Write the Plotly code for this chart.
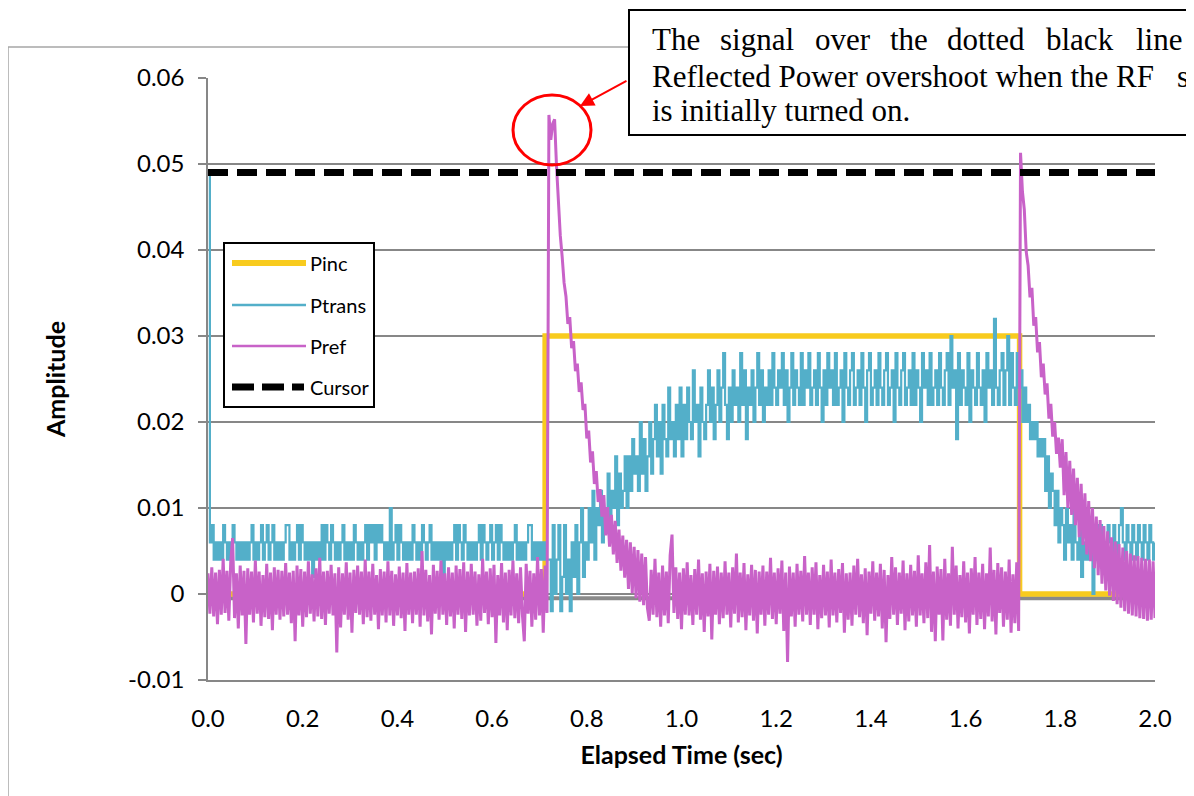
import plotly.graph_objects as go

# ---------------- data ----------------
sample_step = 0.004  # seconds between recorded samples

# Incident power (step on / step off)
pinc_time = [0.0, 0.712, 1.714, 2.0]
pinc_values = [0.0, 0.03, 0.0, 0.0]

# Cursor (threshold) line
cursor_time = [0.0, 2.0]
cursor_values = [0.049, 0.049]

# grey reference baseline
baseline_time = [0.0, 2.0]
baseline_values = [-0.0005, -0.0005]

# Transmitted power, in units of 1e-3 (digitiser steps of 0.002)
ptrans_milli = [
    49, 6, 8, 4, 6, 4, 6, 4, 8, 6, 4, 6, 4, 8, 6, 4, 6, 4, 6, 4,
    6, 4, 6, 8, 4, 6, 4, 6, 8, 4, 6, 8, 4, 6, 8, 4, 6, 4, 6, 4,
    6, 8, 8, 4, 6, 4, 6, 8, 4, 8, 6, 4, 6, 4, 6, 2, 6, 4, 6, 4,
    8, 4, 8, 6, 4, 8, 6, 4, 6, 4, 6, 8, 4, 6, 4, 6, 4, 8, 6, 4,
    6, 4, 6, 8, 4, 8, 6, 8, 4, 8, 6, 8, 6, 4, 6, 4, 10, 4, 6, 8,
    4, 8, 6, 4, 6, 4, 6, 4, 8, 6, 4, 6, 4, 8, 6, 4, 6, 8, 4, 6,
    4, 6, 4, 6, 2, 6, 4, 6, 4, 6, 8, 4, 8, 6, 4, 8, 6, 4, 6, 4,
    6, 4, 6, 8, 4, 8, 6, 4, 6, 8, 4, 6, 8, 4, 8, 6, 4, 6, 4, 6,
    4, 6, 8, 4, 6, 4, 6, 4, 6, 8, 8, 4, 6, 4, 6, 4, 6, 4, 6, 4,
    # RF on: rise
    4, -2, 8, 0, 4, 8, -2, 2, 8, 0, 4, -2, 6, 2, 8, 0, 6, 10, 2, 6,
    4, 10, 6, 12, 4, 10, 8, 12, 6, 10, 8,
    14, 8, 12, 10, 16, 8, 14, 10, 12, 16, 10,
    16, 12, 18, 14, 16, 12, 20, 14, 18, 12, 16,
    20, 14, 18, 22, 16, 20, 14, 22, 18, 16, 24, 18, 20, 16, 22, 18, 24, 16,
    22, 18, 24, 20, 18, 26, 20, 22, 16, 24, 20, 18, 22, 26, 20, 24, 18,
    22, 26, 20, 24, 28, 22, 18, 24, 20, 26, 22, 24, 20, 28, 22, 26, 18, 24, 22, 26,
    20, 24, 28, 22, 26, 20, 24, 22,
    # plateau
    26, 22, 28, 24, 22, 26, 24, 28, 22, 26, 20, 24, 28, 22, 26, 24, 22, 28, 22, 26,
    24, 28, 22, 24, 26, 22, 28, 24, 20, 26, 22, 28, 24, 26, 22, 28, 22, 24, 26, 20,
    28, 24, 22, 26, 28, 22, 24, 26, 22, 28, 24, 20, 26, 28, 22, 24, 26, 22, 28, 24,
    22, 26, 28, 22, 24, 26, 20, 28, 24, 22, 26, 28, 22, 24, 26, 22, 28, 22, 26, 24,
    20, 28, 24, 26, 22, 28, 22, 24, 26, 22, 28, 24, 22, 26, 28, 22, 30, 24, 26, 18,
    28, 22, 26, 24, 22, 28, 20, 26, 24, 22, 28, 24, 22, 26, 20, 28, 24, 26, 22, 32,
    24, 22, 26, 28, 22, 26, 30, 22, 28, 24, 22, 28, 24,
    # RF off: fall
    26, 20, 24, 20, 22, 18, 20, 18, 20, 16, 18, 16, 18, 12, 16, 10, 14, 12, 8, 12,
    6, 10, 8, 4, 10, 6, 8, 4, 10, 6, 4, 8, 2, 6, 4, 8, 4, 6, 0, 6, 4, 8,
    8, 4, 6, 4, 8, 6, 4, 8, 6, 4, 8, 10, 6, 4, 8, 6, 4, 8, 6, 4,
    8, 6, 4, 8, 6, 4, 8, 6, 4, 6,
]

# Reflected power, in units of 1e-4
pref_e4 = [
    24, -23, 31, -26, 25, -35, 28, -24, 41, -22, 27, -31, 37, 65, -28, 24, -40, 33, -25, 27,
    -58, 30, -24, 26, -33, 39, -23, 26, -37, 22, -27, 35, -29, 25, -42, 31, -24, 28, -30, 27,
    -26, 36, -24, 25, -34, 27, -55, 33, -25, 29, -38, 26, -27, 38, -23, 23, -32, 30, -26, 42,
    -29, 26, -36, 27, -23, 34, -25, 24, -68, 31, -39, 24, -24, 37, -30, 25, -45, 28, -22, 33,
    -24, 26, -35, 40, -27, 26, -31, 35, -24, 22, -41, 29, -25, 26, -33, 38, -25, 27, -37, 23,
    -25, 32, -28, 25, -43, 36, -24, 25, -34, 26, -24, 30, -38, 50, -25, 28, -32, 22, -47, 34,
    -23, 27, -30, 39, -24, 24, -36, 31, -26, 25, -40, 33, -24, 29, -29, 37, -44, 26, -25, 35,
    -24, 26, -37, 23, -31, 41, -22, 26, -35, 30, -27, 34, -57, 22, -25, 36, -33, 25, -42, 28,
    -25, 39, -28, 24, -34, 31, -24, -55, 35, -23, 27, -38, 24, -30, 43, -25, 29, -45, 33, -22,
    # RF on: overshoot and decay
    557, 528, 547, 552, 498, 452, 417, 392, 362,
    346, 314, 322, 286, 294, 259, 268, 235, 246, 214, 221, 181, 190, 153, 166, 128, 143, 107, 122, 90,
    115, 68, 101, 55, 92, 46, 85, 36, 75, 27, 68, 19, 63, 6, 60, 1, 55, -5, 51, -9, 47, -13, 43, -16,
    # steady state
    -31, 28, -24, 41, -27, 25, -38, 33, -25, 26, -34, 45, 69, -22, 31, -29, 25, -41, 30, -24,
    37, -25, 22, -36, 29, -24, 40, -30, 24, -44, 26, -26, 35, -53, 27, -24, 32, -35, 25, -28,
    38, -24, 25, -39, 31, -23, 47, -33, 25, -27, 36, -42, 23, -25, 34, -31, 28, -46, 26, -24,
    33, -37, 26, -24, 42, -29, 25, -35, 30, -23, 39, -43, 25, -79, 32, -26, 25, -38, 35, -24,
    27, -32, 44, -24, 25, -36, 31, -24, 37, -41, 22, -28, 34, -25, 26, -39, 40, -25, 25, -33,
    29, -22, 36, -45, 24, -30, 25, -37, 33, -24, 41, -27, 23, -34, 30, -48, 26, -23, 38, -31,
    25, -26, 35, -40, 28, -56, 22, -29, 43, -24, 31, -36, 25, -23, 39, -42, 24, -32, 34, -25,
    27, -38, 45, -25, 24, -34, 37, -28, 57, -44, 26, -55, 32, -24, 29, -54, 41, -30, 24, -37,
    55, -24, 33, -40, 22, -27, 38, -33, 25, -46, 30, -24, 43, -36, 25, -29, 35, -41, 24, -26,
    54, -32, 28, -47, 36, -22, 31, -38, 26, -30, 40, -45, 23, -34, 37, -43,
    # RF off: overshoot and decay
    513, 468, 447, 398, 382, 345, 356, 312, 322, 281, 293, 252, 268, 232, 245, 204, 221, 183, 200, 163,
    182, 147,
    180, 115, 165, 100, 155, 92, 146, 80, 135, 66, 128, 57, 117, 46, 108, 38, 100, 30, 90, 22,
    86, 12, 79, 4, 73, -2, 66, -8, 61, -12, 58, -16, 54, -20, 50, -23, 47, -25, 45, -26,
    44, -28, 42, -29, 41, -31, 40, -30, 38, -28,
]

x_tick_vals = [0.0, 0.2, 0.4, 0.6, 0.8, 1.0, 1.2, 1.4, 1.6, 1.8, 2.0]
x_tick_text = ["0.0", "0.2", "0.4", "0.6", "0.8", "1.0", "1.2", "1.4", "1.6", "1.8", "2.0"]
y_tick_vals = [-0.01, 0.0, 0.01, 0.02, 0.03, 0.04, 0.05, 0.06]
y_tick_text = ["-0.01", "0", "0.01", "0.02", "0.03", "0.04", "0.05", "0.06"]

series_names = ["Pinc", "Ptrans", "Pref", "Cursor"]
series_colors = ["#F8CB1E", "#53AFC9", "#C862C8", "#000000"]

ptrans_values = [v * 1e-3 for v in ptrans_milli]
ptrans_time = [i * sample_step for i in range(len(ptrans_values))]
pref_values = [v * 1e-4 for v in pref_e4]
pref_time = [i * sample_step for i in range(len(pref_values))]

# ---------------- layout helpers ----------------
# the page body has an 8px margin, so the figure is drawn 8px in from the window corner
W, H = 1186, 788
L, R, T, B = 200, 39, 70, 116
PW, PH = W - L - R, H - T - B


def px(xp):
    """window x pixel -> paper coordinate"""
    return (xp - 8 - L) / PW


def py(yp):
    """window y pixel -> paper coordinate"""
    return (H - B - (yp - 8)) / PH


GRID = "#878787"
FONT = "Lato"

fig = go.Figure()
fig.add_trace(go.Scatter(x=baseline_time, y=baseline_values, mode="lines",
                         line=dict(color="#8A8A8A", width=4), showlegend=False, hoverinfo="skip"))
fig.add_trace(go.Scatter(x=pinc_time, y=pinc_values, mode="lines", name=series_names[0],
                         line=dict(color=series_colors[0], width=5.5, shape="hv")))
fig.add_trace(go.Scatter(x=ptrans_time, y=ptrans_values, mode="lines", name=series_names[1],
                         line=dict(color=series_colors[1], width=2.2, shape="hv")))
fig.add_trace(go.Scatter(x=pref_time, y=pref_values, mode="lines", name=series_names[2],
                         line=dict(color=series_colors[2], width=3)))
fig.add_trace(go.Scatter(x=cursor_time, y=cursor_values, mode="lines", name=series_names[3],
                         line=dict(color=series_colors[3], width=7, dash="20px,9px")))

shapes = []
annotations = []

# outer chart frame
shapes.append(dict(type="rect", xref="paper", yref="paper", x0=px(8), x1=px(1215), y0=py(815), y1=py(47),
                   line=dict(color="#A6A6A6", width=1.5), layer="below"))

# legend (manual, to match long Excel swatches)
shapes.append(dict(type="rect", xref="paper", yref="paper", x0=px(224), x1=px(374), y0=py(407), y1=py(243),
                   line=dict(color="black", width=2), fillcolor="white", layer="above"))
legend_y = [263, 305, 346, 387]
legend_w = [6, 2.5, 2.5, 7]
for name, col, yy, lw in zip(series_names, series_colors, legend_y, legend_w):
    ln = dict(color=col, width=lw)
    if name == "Cursor":
        ln["dash"] = "22px,8px,22px,8px,12px"
    shapes.append(dict(type="line", xref="paper", yref="paper", x0=px(232), x1=px(306), y0=py(yy), y1=py(yy),
                       line=ln, layer="above"))
    annotations.append(dict(text=name, xref="paper", yref="paper", x=px(308), y=py(yy), xanchor="left",
                            yanchor="middle", showarrow=False, font=dict(family=FONT, size=20, color="black")))

# callout box
shapes.append(dict(type="rect", xref="paper", yref="paper", x0=px(629), x1=px(1230), y0=py(135), y1=py(10),
                   line=dict(color="black", width=2), fillcolor="white", layer="above"))
# red circle
shapes.append(dict(type="circle", xref="paper", yref="paper", x0=px(513), x1=px(591), y0=py(165), y1=py(95),
                   line=dict(color="#FF0000", width=3), layer="above"))

serif = dict(family="Liberation Serif", size=31, color="black")
line1 = [("The", 651), ("signal", 719), ("over", 814), ("the", 889), ("dotted", 946), ("black", 1045),
         ("line", 1135)]
for w, xx in line1:
    annotations.append(dict(text=w, xref="paper", yref="paper", x=px(xx), y=py(40), xanchor="left",
                            yanchor="middle", showarrow=False, font=serif, borderpad=0))
line2 = [("Reflected Power overshoot when the RF", 651), ("signal", 1176)]
for w, xx in line2:
    annotations.append(dict(text=w, xref="paper", yref="paper", x=px(xx), y=py(76), xanchor="left",
                            yanchor="middle", showarrow=False, font=serif, borderpad=0))
annotations.append(dict(text="is initially turned on.", xref="paper", yref="paper", x=px(651), y=py(111),
                        xanchor="left", yanchor="middle", showarrow=False, font=serif, borderpad=0))

# red arrow from callout to circle
annotations.append(dict(text="", xref="paper", yref="paper", x=px(580), y=py(106), ax=48, ay=-26,
                        showarrow=True, arrowhead=2, arrowsize=1.4, arrowwidth=2, arrowcolor="#FF0000",
                        standoff=0))

fig.update_layout(
    width=W, height=H,
    margin=dict(l=L, r=R, t=T, b=B),
    paper_bgcolor="white", plot_bgcolor="white",
    showlegend=False,
    shapes=shapes, annotations=annotations,
    xaxis=dict(range=[0, 2.0], tickvals=x_tick_vals, ticktext=x_tick_text, showgrid=False, zeroline=False,
               showline=True, linecolor=GRID, linewidth=1.5, ticks="", ticklabelstandoff=16,
               tickfont=dict(family=FONT, size=24, color="black"),
               title=dict(text="Elapsed Time (sec)", standoff=16,
                          font=dict(family=FONT, size=25, color="black", weight="bold"))),
    yaxis=dict(range=[-0.01, 0.06], tickvals=y_tick_vals, ticktext=y_tick_text, showgrid=True,
               gridcolor=GRID, gridwidth=1.5, zeroline=False, showline=True, linecolor=GRID, linewidth=1.5,
               ticks="outside", ticklen=8, tickcolor=GRID, tickwidth=1.5, ticklabelstandoff=9,
               tickfont=dict(family=FONT, size=24, color="black"),
               title=dict(text="Amplitude", standoff=55,
                          font=dict(family=FONT, size=25, color="black", weight="bold"))),
)

fig.write_html("out.html")
